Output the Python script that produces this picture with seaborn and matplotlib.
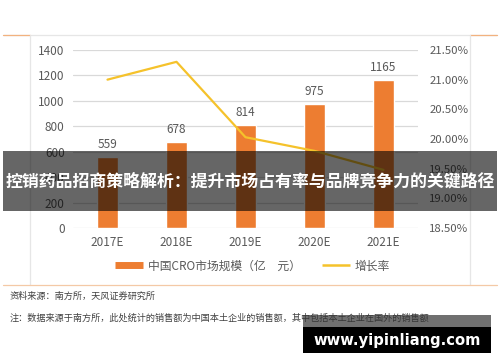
"""
CRO market size vs growth rate, recreated with seaborn
"""

import matplotlib
matplotlib.use("Agg")
import matplotlib.pyplot as plt
from matplotlib.lines import Line2D
from matplotlib.patches import Rectangle
from matplotlib.ticker import FuncFormatter
import pandas as pd
import seaborn as sns

# ----------------------------
# DATA
# ----------------------------
years = ["2017E", "2018E", "2019E", "2020E", "2021E"]
market_size = [559, 678, 814, 975, 1165]          # 亿元
growth_rate = [21.0, 21.3, 20.03, 19.8, 19.48]    # %

bar_name = "中国CRO市场规模（亿　元）"
line_name = "增长率"
banner = "控销药品招商策略解析：提升市场占有率与品牌竞争力的关键路径"
source_txt = "资料来源：南方所，天风证券研究所"
note_txt = "注：数据来源于南方所，此处统计的销售额为中国本土企业的销售额，其中包括本土企业在国外的销售额"
watermark = "www.yipinliang.com"

ORANGE = "#ED7D31"
YELLOW = "#F5C22B"
GREY_TXT = "#595959"
GRID = "#D9D9D9"

sns.set_style("white")
plt.rcParams["font.family"] = ["Noto Sans CJK SC", "DejaVu Sans"]

df = pd.DataFrame({"year": years, "size": market_size, "rate": growth_rate})

fig = plt.figure(figsize=(5, 3.62), dpi=100)
ax = fig.add_axes([0.146, 0.370, 0.69, 0.492])

# bars
sns.barplot(data=df, x="year", y="size", color=ORANGE, width=0.3,
            saturation=1, ax=ax)
ax.bar_label(ax.containers[0], padding=4, fontsize=8.5, color=GREY_TXT)
ax.set_ylim(0, 1400)
ax.set_yticks(range(0, 1401, 200))
ax.set_xlim(-0.5, 4.5)
ax.set_xlabel("")
ax.set_ylabel("")
ax.grid(axis="y", color=GRID, linewidth=0.9)
ax.set_axisbelow(True)
for s in ax.spines.values():
    s.set_visible(False)
ax.tick_params(length=0, labelsize=8.5, labelcolor=GREY_TXT, pad=6)

# growth rate line on the right axis
ax2 = ax.twinx()
sns.lineplot(data=df, x="year", y="rate", color=YELLOW, linewidth=1.6,
             ax=ax2, legend=False)
ax2.set_ylim(18.5, 21.5)
ax2.set_yticks([18.5, 19.0, 19.5, 20.0, 20.5, 21.0, 21.5])
ax2.yaxis.set_major_formatter(FuncFormatter(lambda v, p: f"{v:.2f}%"))
ax2.set_ylabel("")
for s in ax2.spines.values():
    s.set_visible(False)
ax2.tick_params(length=0, labelsize=8.2, labelcolor=GREY_TXT, pad=8)
ax2.set_xlim(-0.5, 4.5)

# legend
handles = [Line2D([], [], color=ORANGE, linewidth=5, solid_capstyle="butt"),
           Line2D([], [], color=YELLOW, linewidth=1.8, solid_capstyle="butt")]
fig.legend(handles, [bar_name, line_name], loc="center",
           bbox_to_anchor=(0.505, 1 - 266 / 362), ncol=2, frameon=False,
           fontsize=8.5, labelcolor=GREY_TXT, handlelength=2.4,
           handletextpad=0.4, columnspacing=1.8)

# frame lines
def fline(x0, x1, y0, y1, color, lw=0.9):
    fig.add_artist(Line2D([x0 / 500, x1 / 500], [1 - y0 / 362, 1 - y1 / 362],
                          color=color, linewidth=lw))

fline(3, 497, 35, 35, "#E6E6E6")
fline(3, 30, 35, 35, "#F2B27F")
fline(470, 497, 35, 35, "#F2B27F")
fline(30, 30, 35, 285, "#E6E6E6")
fline(470, 470, 35, 285, "#E6E6E6")
fline(3, 497, 285, 285, "#F4C9A6")

# source notes
fig.text(10 / 500, 1 - 296 / 362, source_txt, fontsize=6.6, color="#404040",
         va="center")
fig.text(10 / 500, 1 - 318 / 362, note_txt, fontsize=6.6, color="#404040",
         va="center")

# banner overlay
fig.add_artist(Rectangle((3 / 500, 1 - 211 / 362), 494 / 500, 60 / 362,
                         transform=fig.transFigure, color="black", alpha=0.6,
                         linewidth=0, zorder=10))
fig.text(0.5, 1 - 182 / 362, banner, fontsize=12.2, fontweight="bold",
         color="white", ha="center", va="center", zorder=11)

# watermark
fig.add_artist(Rectangle((303 / 500, 1 - 327 / 362), 188 / 500, 12 / 362,
                         transform=fig.transFigure, color="#333333", alpha=0.7,
                         linewidth=0, zorder=10))
fig.add_artist(Rectangle((303 / 500, 1 - 353 / 362), 188 / 500, 26 / 362,
                         transform=fig.transFigure, color="black",
                         linewidth=0, zorder=10))
fig.text(397 / 500, 1 - 340 / 362, watermark, fontsize=10.6, fontweight="bold",
         color="white", ha="center", va="center", zorder=11,
         family="DejaVu Sans")

fig.savefig("out.png", dpi=100)
